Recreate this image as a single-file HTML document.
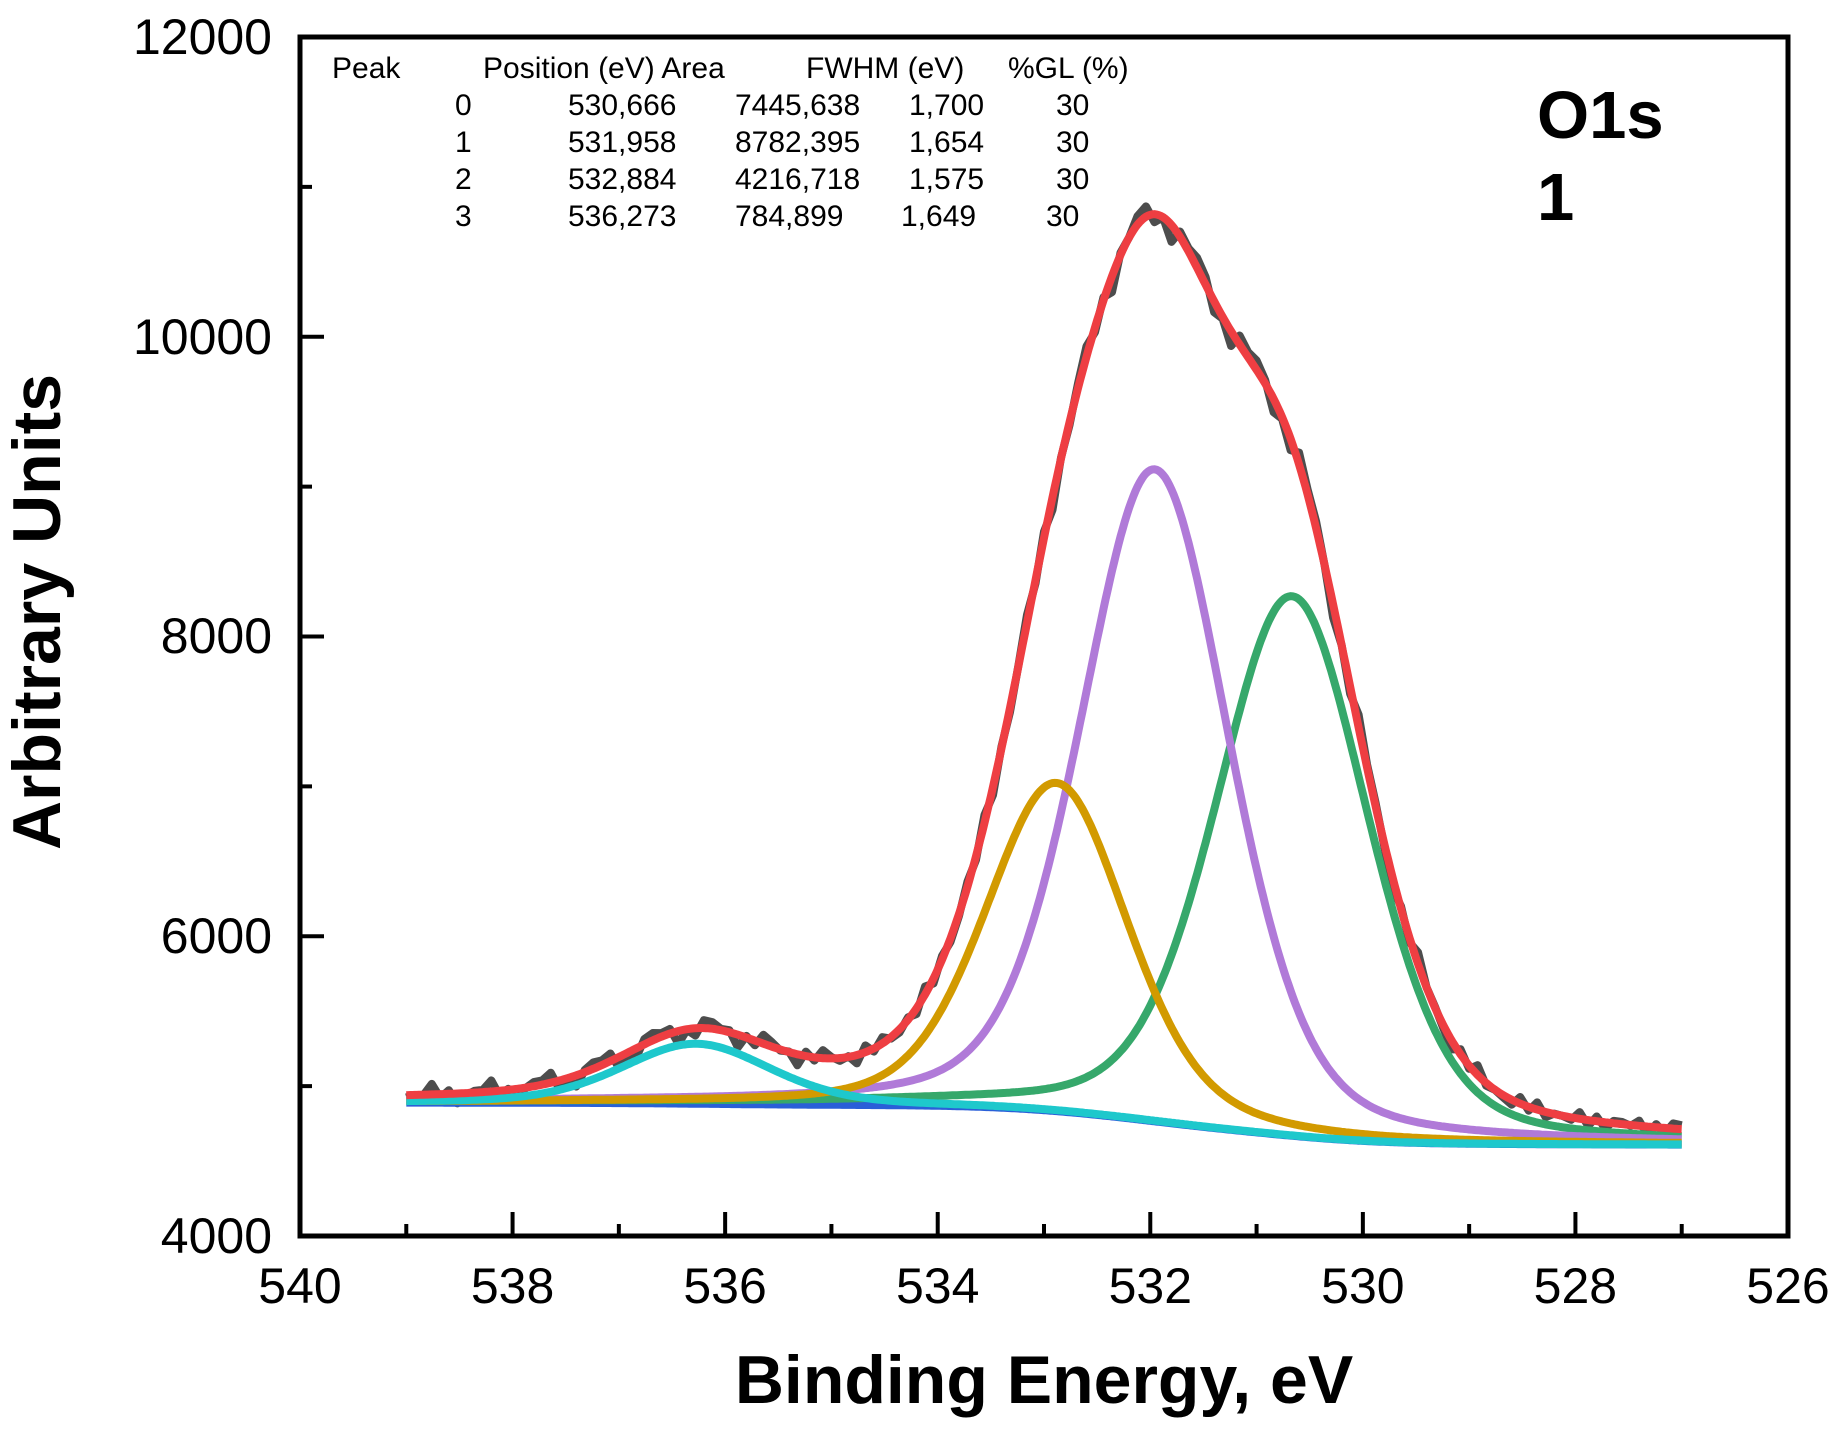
<!DOCTYPE html>
<html><head><meta charset="utf-8"><style>
html,body{margin:0;padding:0;background:#fff;}
svg{display:block;}
text{font-family:"Liberation Sans",Arial,sans-serif;fill:#000;}
</style></head><body>
<svg id="s" width="1837" height="1434" viewBox="0 0 1837 1434" xmlns="http://www.w3.org/2000/svg">
<g id="curves"></g>
<rect x="300" y="37" width="1488" height="1199" fill="none" stroke="#000" stroke-width="5"/>
<g id="ticks" stroke="#000" stroke-width="4"></g>
<g font-size="50" text-anchor="middle">
<text x="300" y="1303">540</text><text x="512.6" y="1303">538</text><text x="725.1" y="1303">536</text><text x="937.7" y="1303">534</text><text x="1150.3" y="1303">532</text><text x="1362.9" y="1303">530</text><text x="1575.4" y="1303">528</text><text x="1788" y="1303">526</text>
</g>
<g font-size="50" text-anchor="end">
<text x="272" y="54">12000</text><text x="272" y="354">10000</text><text x="272" y="653">8000</text><text x="272" y="953">6000</text><text x="272" y="1253">4000</text>
</g>
<text x="1044" y="1403" font-size="68" font-weight="bold" text-anchor="middle">Binding Energy, eV</text>
<text transform="translate(60,612) rotate(-90)" font-size="68" font-weight="bold" text-anchor="middle">Arbitrary Units</text>
<g font-size="30">
<text x="332" y="78">Peak</text><text x="483" y="78">Position (eV) Area</text><text x="806" y="78">FWHM (eV)</text><text x="1008" y="78">%GL (%)</text>
<text x="455" y="115">0</text><text x="568" y="115">530,666</text><text x="735" y="115">7445,638</text><text x="909" y="115">1,700</text><text x="1056" y="115">30</text>
<text x="455" y="152">1</text><text x="568" y="152">531,958</text><text x="735" y="152">8782,395</text><text x="909" y="152">1,654</text><text x="1056" y="152">30</text>
<text x="455" y="189">2</text><text x="568" y="189">532,884</text><text x="735" y="189">4216,718</text><text x="909" y="189">1,575</text><text x="1056" y="189">30</text>
<text x="455" y="226">3</text><text x="568" y="226">536,273</text><text x="735" y="226">784,899</text><text x="901" y="226">1,649</text><text x="1046" y="226">30</text>
</g>
<text x="1537" y="138" font-size="67" font-weight="bold">O1s</text>
<text x="1537" y="220" font-size="67" font-weight="bold">1</text>
</svg>
<script>
(function(){
var X=function(e){return 300+(540-e)*106.286;};
var Y=function(v){return 1236-(v-4000)*0.149875;};
var t=document.getElementById('ticks'),h='';
for(var e=539;e>=527;e--){var l=(e%2==0)?24:12;h+='<line x1="'+X(e)+'" y1="1236" x2="'+X(e)+'" y2="'+(1236-l)+'"/>';}
for(var v=5000;v<12000;v+=1000){var l=(v%2000==0)?24:12;h+='<line x1="300" y1="'+Y(v)+'" x2="'+(300+l)+'" y2="'+Y(v)+'"/>';}
t.innerHTML=h;
var P=[[530.666,3600,1.70],[531.958,4350,1.654],[532.884,2190,1.575],[536.273,400,1.649]];
function pk(p,x){var d=(x-p[0])/p[2];var g=Math.exp(-4*Math.LN2*d*d);var L=1/(1+4*d*d);return p[1]*(0.7*g+0.3*L);}
var N=600,xs=[],i;for(i=0;i<=N;i++)xs.push(527+12*i/N);
var cum=[0],tot;for(i=1;i<=N;i++){var s=0;for(var k=0;k<4;k++)s+=pk(P[k],xs[i]);cum.push(cum[i-1]+s);}
tot=cum[N];var bR=4610,bL=4890;
var bg=xs.map(function(x,i){return bR+(bL-bR)*cum[i]/tot;});
function path(f){var d='';for(var i=0;i<=N;i++){d+=(i?'L':'M')+X(xs[i]).toFixed(1)+','+Y(f(i)).toFixed(1);}return d;}
function fit(i){var s=bg[i];for(var k=0;k<4;k++)s+=pk(P[k],xs[i]);return s;}
var dd='';for(i=0;i<=150;i++){var x=527+12*i/150;var j=Math.round(i*4);var n=Math.sin(i*2.7)*30+Math.sin(i*5.3+1)*22+Math.sin(i*0.9)*15;var f=fit(j)+n*(1+fit(j)/12000);dd+=(i?'L':'M')+X(x).toFixed(1)+','+Y(f).toFixed(1);}
var g='';
g+='<path d="'+dd+'" fill="none" stroke="#4d4d4d" stroke-width="8" stroke-linejoin="round"/>';
g+='<path d="'+path(function(i){return bg[i];})+'" fill="none" stroke="#2a5fd8" stroke-width="8"/>';
var cols=['#36a86b','#b07ad8','#d29a00','#1ec8cc'];
for(var k=0;k<4;k++){(function(k){g+='<path d="'+path(function(i){return bg[i]+pk(P[k],xs[i]);})+'" fill="none" stroke="'+cols[k]+'" stroke-width="8"/>';})(k);}
g+='<path d="'+path(fit)+'" fill="none" stroke="#ee3e42" stroke-width="8"/>';
document.getElementById('curves').innerHTML=g;
})();
</script>
</body></html>
